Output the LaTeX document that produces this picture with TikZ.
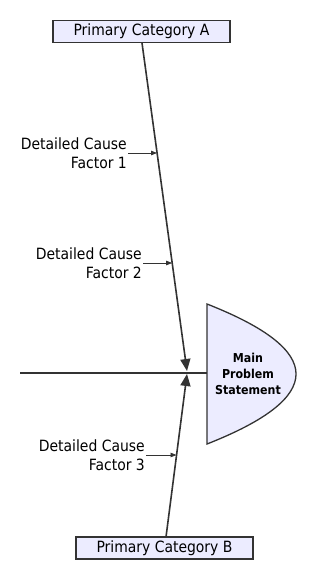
\documentclass[tikz,border=0pt]{standalone}
\usepackage{fontspec}
\setmainfont{DejaVu Sans Condensed}
\usetikzlibrary{arrows.meta,calc}
\definecolor{boxfill}{HTML}{ECECFF}
\definecolor{edge}{HTML}{333333}
\begin{document}
\begin{tikzpicture}[x=1pt,y=-1pt,
  catbox/.style={draw=edge,fill=boxfill,line width=1.3pt,minimum width=177pt,minimum height=22pt,inner sep=0pt,font=\fontsize{15.5}{18}\selectfont},
  spine/.style={draw=edge,line width=1.6pt},
  bigtip/.style={-{Triangle[length=12pt,width=10pt]}},
  causelbl/.style={anchor=east,align=right,inner sep=1pt,font=\fontsize{15.5}{18.5}\selectfont},
  causearrow/.style={draw=edge,line width=0.8pt,-{Triangle[length=6pt,width=4.5pt]}}]
\useasboundingbox (0,0) rectangle (316,580);
% category boxes
\node[catbox] (boxA) at (141.5,31.5) {Primary Category A};
\node[catbox] (boxB) at (164.5,548) {Primary Category B};
% hub and spine ends
\coordinate (hubA) at (187,371);
\coordinate (hubB) at (187,374);
\coordinate (sA) at (142,43);
\coordinate (sB) at (166,537);
\coordinate (tail) at (20,373);
\coordinate (headL) at (207,373);
% head
\draw[draw=edge,fill=boxfill,line width=1.3pt] (207,304) .. controls (325.7,350.7) and (325.7,397.3) .. (207,444) -- cycle;
\node[align=center,inner sep=0pt,font=\fontsize{12.3}{16}\selectfont\bfseries] (head) at (248,374) {Main\\Problem\\Statement};
% spines
\draw[spine] (tail) -- (headL);
\draw[spine,bigtip] (sA) -- (hubA);
\draw[spine,bigtip] (sB) -- (hubB);
% cause points on spines
\coordinate (p1) at ($(sA)!0.3343!(hubA)$);
\coordinate (p2) at ($(sA)!0.6687!(hubA)$);
\coordinate (p3) at ($(sB)!0.5!(hubB)$);
% labels
\node[causelbl] (f1) at (128,153) {Detailed Cause\\Factor 1};
\node[causelbl] (f2) at (143,263) {Detailed Cause\\Factor 2};
\node[causelbl] (f3) at (146,455) {Detailed Cause\\Factor 3};
\draw[causearrow] (f1.east) -- (f1.east -| p1);
\draw[causearrow] (f2.east) -- (f2.east -| p2);
\draw[causearrow] (f3.east) -- (f3.east -| p3);
\end{tikzpicture}
\end{document}
